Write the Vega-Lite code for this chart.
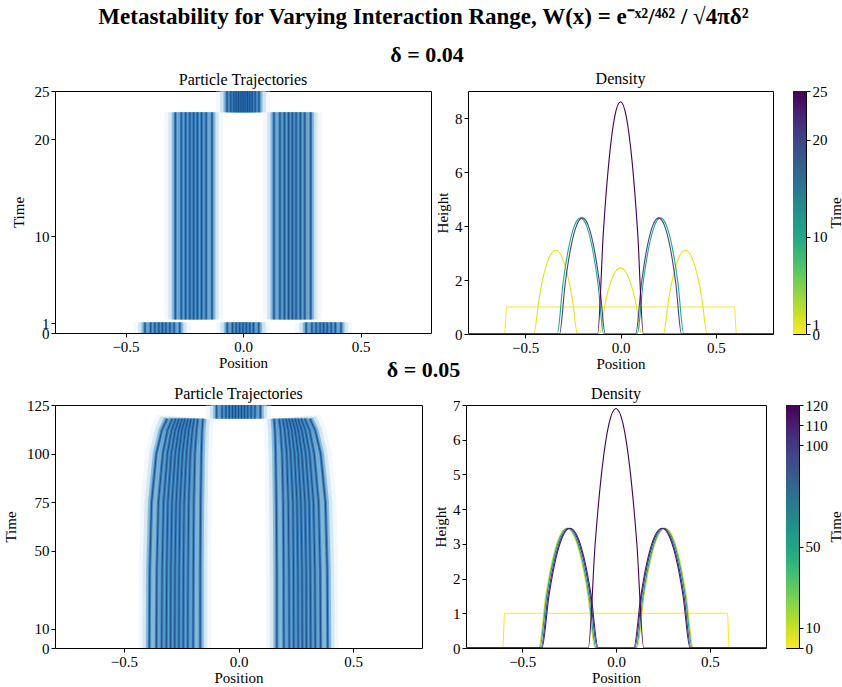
{
"$schema": "https://vega.github.io/schema/vega-lite/v6.json",
"background": "white",
"padding": {"left": 3, "right": 0, "top": 5, "bottom": 0},
"title": {"text": "Metastability for Varying Interaction Range, W(x) = e⁻ˣ²/⁴ᵟ² / √4πδ²", "font": "Liberation Serif", "fontSize": 23, "fontWeight": "bold", "anchor": "middle", "color": "#000", "offset": 15},
"config": {
  "font": "Liberation Serif",
  "view": {"stroke": "#000", "strokeWidth": 1},
  "axis": {"labelFont": "Liberation Serif", "labelFontSize": 15, "labelColor": "#000", "titleFont": "Liberation Serif", "titleFontSize": 15, "titleFontWeight": "normal", "titleColor": "#000", "tickColor": "#000", "domain": false, "grid": false, "tickSize": 4, "labelPadding": 2, "labelOverlap": false},
  "axisX": {"titlePadding": 1},
  "axisY": {"titlePadding": 8},
  "title": {"font": "Liberation Serif", "color": "#000"}
},
"datasets": {
"traj1": [
{"p":"a1","t":0,"x":-0.417},{"p":"a1","t":1.1,"x":-0.417},
{"p":"a2","t":0,"x":-0.393},{"p":"a2","t":1.1,"x":-0.393},
{"p":"a3","t":0,"x":-0.375},{"p":"a3","t":1.1,"x":-0.375},
{"p":"a4","t":0,"x":-0.358},{"p":"a4","t":1.1,"x":-0.358},
{"p":"a5","t":0,"x":-0.343},{"p":"a5","t":1.1,"x":-0.343},
{"p":"a6","t":0,"x":-0.328},{"p":"a6","t":1.1,"x":-0.328},
{"p":"a7","t":0,"x":-0.311},{"p":"a7","t":1.1,"x":-0.311},
{"p":"a8","t":0,"x":-0.293},{"p":"a8","t":1.1,"x":-0.293},
{"p":"a9","t":0,"x":-0.269},{"p":"a9","t":1.1,"x":-0.269},
{"p":"b1","t":0,"x":-0.067},{"p":"b1","t":1.1,"x":-0.067},
{"p":"b2","t":0,"x":-0.045},{"p":"b2","t":1.1,"x":-0.045},
{"p":"b3","t":0,"x":-0.029},{"p":"b3","t":1.1,"x":-0.029},
{"p":"b4","t":0,"x":-0.014},{"p":"b4","t":1.1,"x":-0.014},
{"p":"b5","t":0,"x":0},{"p":"b5","t":1.1,"x":0},
{"p":"b6","t":0,"x":0.014},{"p":"b6","t":1.1,"x":0.014},
{"p":"b7","t":0,"x":0.029},{"p":"b7","t":1.1,"x":0.029},
{"p":"b8","t":0,"x":0.045},{"p":"b8","t":1.1,"x":0.045},
{"p":"b9","t":0,"x":0.067},{"p":"b9","t":1.1,"x":0.067},
{"p":"c1","t":0,"x":0.269},{"p":"c1","t":1.1,"x":0.269},
{"p":"c2","t":0,"x":0.293},{"p":"c2","t":1.1,"x":0.293},
{"p":"c3","t":0,"x":0.311},{"p":"c3","t":1.1,"x":0.311},
{"p":"c4","t":0,"x":0.328},{"p":"c4","t":1.1,"x":0.328},
{"p":"c5","t":0,"x":0.343},{"p":"c5","t":1.1,"x":0.343},
{"p":"c6","t":0,"x":0.358},{"p":"c6","t":1.1,"x":0.358},
{"p":"c7","t":0,"x":0.375},{"p":"c7","t":1.1,"x":0.375},
{"p":"c8","t":0,"x":0.393},{"p":"c8","t":1.1,"x":0.393},
{"p":"c9","t":0,"x":0.417},{"p":"c9","t":1.1,"x":0.417},
{"p":"d1","t":1.4,"x":-0.288},{"p":"d1","t":22.8,"x":-0.288},
{"p":"d2","t":1.4,"x":-0.263},{"p":"d2","t":22.8,"x":-0.263},
{"p":"d3","t":1.4,"x":-0.244},{"p":"d3","t":22.8,"x":-0.244},
{"p":"d4","t":1.4,"x":-0.226},{"p":"d4","t":22.8,"x":-0.226},
{"p":"d5","t":1.4,"x":-0.21},{"p":"d5","t":22.8,"x":-0.21},
{"p":"d6","t":1.4,"x":-0.194},{"p":"d6","t":22.8,"x":-0.194},
{"p":"d7","t":1.4,"x":-0.176},{"p":"d7","t":22.8,"x":-0.176},
{"p":"d8","t":1.4,"x":-0.157},{"p":"d8","t":22.8,"x":-0.157},
{"p":"d9","t":1.4,"x":-0.132},{"p":"d9","t":22.8,"x":-0.132},
{"p":"e1","t":1.4,"x":0.132},{"p":"e1","t":22.8,"x":0.132},
{"p":"e2","t":1.4,"x":0.157},{"p":"e2","t":22.8,"x":0.157},
{"p":"e3","t":1.4,"x":0.176},{"p":"e3","t":22.8,"x":0.176},
{"p":"e4","t":1.4,"x":0.194},{"p":"e4","t":22.8,"x":0.194},
{"p":"e5","t":1.4,"x":0.21},{"p":"e5","t":22.8,"x":0.21},
{"p":"e6","t":1.4,"x":0.226},{"p":"e6","t":22.8,"x":0.226},
{"p":"e7","t":1.4,"x":0.244},{"p":"e7","t":22.8,"x":0.244},
{"p":"e8","t":1.4,"x":0.263},{"p":"e8","t":22.8,"x":0.263},
{"p":"e9","t":1.4,"x":0.288},{"p":"e9","t":22.8,"x":0.288},
{"p":"f1","t":22.8,"x":-0.068},{"p":"f1","t":25,"x":-0.068},
{"p":"f2","t":22.8,"x":-0.052},{"p":"f2","t":25,"x":-0.052},
{"p":"f3","t":22.8,"x":-0.039},{"p":"f3","t":25,"x":-0.039},
{"p":"f4","t":22.8,"x":-0.029},{"p":"f4","t":25,"x":-0.029},
{"p":"f5","t":22.8,"x":-0.019},{"p":"f5","t":25,"x":-0.019},
{"p":"f6","t":22.8,"x":-0.009},{"p":"f6","t":25,"x":-0.009},
{"p":"f7","t":22.8,"x":0},{"p":"f7","t":25,"x":0},
{"p":"f8","t":22.8,"x":0.009},{"p":"f8","t":25,"x":0.009},
{"p":"f9","t":22.8,"x":0.019},{"p":"f9","t":25,"x":0.019},
{"p":"f10","t":22.8,"x":0.029},{"p":"f10","t":25,"x":0.029},
{"p":"f11","t":22.8,"x":0.039},{"p":"f11","t":25,"x":0.039},
{"p":"f12","t":22.8,"x":0.052},{"p":"f12","t":25,"x":0.052},
{"p":"f13","t":22.8,"x":0.068},{"p":"f13","t":25,"x":0.068}
],
"traj2": [
{"p":"l1","t":0,"x":-0.389},{"p":"l1","t":40,"x":-0.387},{"p":"l1","t":75,"x":-0.379},{"p":"l1","t":100,"x":-0.358},{"p":"l1","t":112,"x":-0.334},{"p":"l1","t":118,"x":-0.311},
{"p":"l2","t":0,"x":-0.358},{"p":"l2","t":40,"x":-0.356},{"p":"l2","t":75,"x":-0.349},{"p":"l2","t":100,"x":-0.330},{"p":"l2","t":112,"x":-0.310},{"p":"l2","t":118,"x":-0.289},
{"p":"l3","t":0,"x":-0.335},{"p":"l3","t":40,"x":-0.333},{"p":"l3","t":75,"x":-0.327},{"p":"l3","t":100,"x":-0.310},{"p":"l3","t":112,"x":-0.292},{"p":"l3","t":118,"x":-0.273},
{"p":"l4","t":0,"x":-0.315},{"p":"l4","t":40,"x":-0.313},{"p":"l4","t":75,"x":-0.308},{"p":"l4","t":100,"x":-0.293},{"p":"l4","t":112,"x":-0.276},{"p":"l4","t":118,"x":-0.259},
{"p":"l5","t":0,"x":-0.296},{"p":"l5","t":40,"x":-0.295},{"p":"l5","t":75,"x":-0.290},{"p":"l5","t":100,"x":-0.276},{"p":"l5","t":112,"x":-0.261},{"p":"l5","t":118,"x":-0.246},
{"p":"l6","t":0,"x":-0.278},{"p":"l6","t":40,"x":-0.277},{"p":"l6","t":75,"x":-0.272},{"p":"l6","t":100,"x":-0.26},{"p":"l6","t":112,"x":-0.247},{"p":"l6","t":118,"x":-0.233},
{"p":"l7","t":0,"x":-0.26},{"p":"l7","t":40,"x":-0.259},{"p":"l7","t":75,"x":-0.255},{"p":"l7","t":100,"x":-0.244},{"p":"l7","t":112,"x":-0.232},{"p":"l7","t":118,"x":-0.22},
{"p":"l8","t":0,"x":-0.241},{"p":"l8","t":40,"x":-0.24},{"p":"l8","t":75,"x":-0.237},{"p":"l8","t":100,"x":-0.227},{"p":"l8","t":112,"x":-0.217},{"p":"l8","t":118,"x":-0.207},
{"p":"l9","t":0,"x":-0.221},{"p":"l9","t":40,"x":-0.22},{"p":"l9","t":75,"x":-0.217},{"p":"l9","t":100,"x":-0.21},{"p":"l9","t":112,"x":-0.201},{"p":"l9","t":118,"x":-0.193},
{"p":"l10","t":0,"x":-0.198},{"p":"l10","t":40,"x":-0.197},{"p":"l10","t":75,"x":-0.195},{"p":"l10","t":100,"x":-0.19},{"p":"l10","t":112,"x":-0.183},{"p":"l10","t":118,"x":-0.177},
{"p":"l11","t":0,"x":-0.167},{"p":"l11","t":40,"x":-0.167},{"p":"l11","t":75,"x":-0.165},{"p":"l11","t":100,"x":-0.162},{"p":"l11","t":112,"x":-0.159},{"p":"l11","t":118,"x":-0.155},
{"p":"r1","t":0,"x":0.389},{"p":"r1","t":40,"x":0.387},{"p":"r1","t":75,"x":0.379},{"p":"r1","t":100,"x":0.358},{"p":"r1","t":112,"x":0.334},{"p":"r1","t":118,"x":0.311},
{"p":"r2","t":0,"x":0.358},{"p":"r2","t":40,"x":0.356},{"p":"r2","t":75,"x":0.349},{"p":"r2","t":100,"x":0.330},{"p":"r2","t":112,"x":0.310},{"p":"r2","t":118,"x":0.289},
{"p":"r3","t":0,"x":0.335},{"p":"r3","t":40,"x":0.333},{"p":"r3","t":75,"x":0.327},{"p":"r3","t":100,"x":0.310},{"p":"r3","t":112,"x":0.292},{"p":"r3","t":118,"x":0.273},
{"p":"r4","t":0,"x":0.315},{"p":"r4","t":40,"x":0.313},{"p":"r4","t":75,"x":0.308},{"p":"r4","t":100,"x":0.293},{"p":"r4","t":112,"x":0.276},{"p":"r4","t":118,"x":0.259},
{"p":"r5","t":0,"x":0.296},{"p":"r5","t":40,"x":0.295},{"p":"r5","t":75,"x":0.290},{"p":"r5","t":100,"x":0.276},{"p":"r5","t":112,"x":0.261},{"p":"r5","t":118,"x":0.246},
{"p":"r6","t":0,"x":0.278},{"p":"r6","t":40,"x":0.277},{"p":"r6","t":75,"x":0.272},{"p":"r6","t":100,"x":0.26},{"p":"r6","t":112,"x":0.247},{"p":"r6","t":118,"x":0.233},
{"p":"r7","t":0,"x":0.26},{"p":"r7","t":40,"x":0.259},{"p":"r7","t":75,"x":0.255},{"p":"r7","t":100,"x":0.244},{"p":"r7","t":112,"x":0.232},{"p":"r7","t":118,"x":0.22},
{"p":"r8","t":0,"x":0.241},{"p":"r8","t":40,"x":0.24},{"p":"r8","t":75,"x":0.237},{"p":"r8","t":100,"x":0.227},{"p":"r8","t":112,"x":0.217},{"p":"r8","t":118,"x":0.207},
{"p":"r9","t":0,"x":0.221},{"p":"r9","t":40,"x":0.22},{"p":"r9","t":75,"x":0.217},{"p":"r9","t":100,"x":0.21},{"p":"r9","t":112,"x":0.201},{"p":"r9","t":118,"x":0.193},
{"p":"r10","t":0,"x":0.198},{"p":"r10","t":40,"x":0.197},{"p":"r10","t":75,"x":0.195},{"p":"r10","t":100,"x":0.19},{"p":"r10","t":112,"x":0.183},{"p":"r10","t":118,"x":0.177},
{"p":"r11","t":0,"x":0.167},{"p":"r11","t":40,"x":0.167},{"p":"r11","t":75,"x":0.165},{"p":"r11","t":100,"x":0.162},{"p":"r11","t":112,"x":0.159},{"p":"r11","t":118,"x":0.155},
{"p":"m1","t":118,"x":-0.095},{"p":"m1","t":125,"x":-0.095},
{"p":"m2","t":118,"x":-0.072},{"p":"m2","t":125,"x":-0.072},
{"p":"m3","t":118,"x":-0.055},{"p":"m3","t":125,"x":-0.055},
{"p":"m4","t":118,"x":-0.04},{"p":"m4","t":125,"x":-0.04},
{"p":"m5","t":118,"x":-0.026},{"p":"m5","t":125,"x":-0.026},
{"p":"m6","t":118,"x":-0.013},{"p":"m6","t":125,"x":-0.013},
{"p":"m7","t":118,"x":0},{"p":"m7","t":125,"x":0},
{"p":"m8","t":118,"x":0.013},{"p":"m8","t":125,"x":0.013},
{"p":"m9","t":118,"x":0.026},{"p":"m9","t":125,"x":0.026},
{"p":"m10","t":118,"x":0.04},{"p":"m10","t":125,"x":0.04},
{"p":"m11","t":118,"x":0.055},{"p":"m11","t":125,"x":0.055},
{"p":"m12","t":118,"x":0.072},{"p":"m12","t":125,"x":0.072},
{"p":"m13","t":118,"x":0.095},{"p":"m13","t":125,"x":0.095}
],
"dens1": [
{"t":0,"x":-0.8,"h":0},{"t":0,"x":-0.608,"h":0},{"t":0,"x":-0.598,"h":1},{"t":0,"x":0.598,"h":1},{"t":0,"x":0.608,"h":0},{"t":0,"x":0.8,"h":0},
{"t":1,"x":-0.8,"h":0},
{"t":1,"x":-0.455,"h":0},{"t":1,"x":-0.426,"h":1.356},{"t":1,"x":-0.398,"h":2.325},{"t":1,"x":-0.369,"h":2.906},{"t":1,"x":-0.34,"h":3.1},{"t":1,"x":-0.311,"h":2.906},{"t":1,"x":-0.283,"h":2.325},{"t":1,"x":-0.254,"h":1.356},{"t":1,"x":-0.225,"h":0},
{"t":1,"x":-0.11,"h":0},{"t":1,"x":-0.0825,"h":1.072},{"t":1,"x":-0.055,"h":1.838},{"t":1,"x":-0.0275,"h":2.297},{"t":1,"x":0,"h":2.45},{"t":1,"x":0.0275,"h":2.297},{"t":1,"x":0.055,"h":1.838},{"t":1,"x":0.0825,"h":1.072},{"t":1,"x":0.11,"h":0},
{"t":1,"x":0.225,"h":0},{"t":1,"x":0.254,"h":1.356},{"t":1,"x":0.283,"h":2.325},{"t":1,"x":0.311,"h":2.906},{"t":1,"x":0.34,"h":3.1},{"t":1,"x":0.369,"h":2.906},{"t":1,"x":0.398,"h":2.325},{"t":1,"x":0.426,"h":1.356},{"t":1,"x":0.455,"h":0},
{"t":1,"x":0.8,"h":0},
{"t":10,"x":-0.8,"h":0},
{"t":10,"x":-0.332,"h":0},{"t":10,"x":-0.3015,"h":1.881},{"t":10,"x":-0.271,"h":3.225},{"t":10,"x":-0.2405,"h":4.031},{"t":10,"x":-0.21,"h":4.3},{"t":10,"x":-0.1795,"h":4.031},{"t":10,"x":-0.149,"h":3.225},{"t":10,"x":-0.1185,"h":1.881},{"t":10,"x":-0.088,"h":0},
{"t":10,"x":0.088,"h":0},{"t":10,"x":0.1185,"h":1.881},{"t":10,"x":0.149,"h":3.225},{"t":10,"x":0.1795,"h":4.031},{"t":10,"x":0.21,"h":4.3},{"t":10,"x":0.2405,"h":4.031},{"t":10,"x":0.271,"h":3.225},{"t":10,"x":0.3015,"h":1.881},{"t":10,"x":0.332,"h":0},
{"t":10,"x":0.8,"h":0},
{"t":20,"x":-0.8,"h":0},
{"t":20,"x":-0.32,"h":0},{"t":20,"x":-0.29,"h":1.881},{"t":20,"x":-0.26,"h":3.225},{"t":20,"x":-0.23,"h":4.031},{"t":20,"x":-0.2,"h":4.3},{"t":20,"x":-0.17,"h":4.031},{"t":20,"x":-0.14,"h":3.225},{"t":20,"x":-0.11,"h":1.881},{"t":20,"x":-0.08,"h":0},
{"t":20,"x":0.08,"h":0},{"t":20,"x":0.11,"h":1.881},{"t":20,"x":0.14,"h":3.225},{"t":20,"x":0.17,"h":4.031},{"t":20,"x":0.2,"h":4.3},{"t":20,"x":0.23,"h":4.031},{"t":20,"x":0.26,"h":3.225},{"t":20,"x":0.29,"h":1.881},{"t":20,"x":0.32,"h":0},
{"t":20,"x":0.8,"h":0},
{"t":25,"x":-0.8,"h":0},
{"t":25,"x":-0.12,"h":0},{"t":25,"x":-0.09,"h":3.763},{"t":25,"x":-0.06,"h":6.45},{"t":25,"x":-0.03,"h":8.063},{"t":25,"x":0,"h":8.6},{"t":25,"x":0.03,"h":8.063},{"t":25,"x":0.06,"h":6.45},{"t":25,"x":0.09,"h":3.763},{"t":25,"x":0.12,"h":0},
{"t":25,"x":0.8,"h":0}
],
"dens2": [
{"t":0,"x":-0.8,"h":0},{"t":0,"x":-0.603,"h":0},{"t":0,"x":-0.595,"h":1},{"t":0,"x":0.595,"h":1},{"t":0,"x":0.603,"h":0},{"t":0,"x":0.8,"h":0},
{"t":10,"x":-0.8,"h":0},
{"t":10,"x":-0.412,"h":0},{"t":10,"x":-0.3745,"h":1.509},{"t":10,"x":-0.337,"h":2.588},{"t":10,"x":-0.2995,"h":3.234},{"t":10,"x":-0.262,"h":3.45},{"t":10,"x":-0.2245,"h":3.234},{"t":10,"x":-0.187,"h":2.588},{"t":10,"x":-0.1495,"h":1.509},{"t":10,"x":-0.112,"h":0},
{"t":10,"x":0.112,"h":0},{"t":10,"x":0.1495,"h":1.509},{"t":10,"x":0.187,"h":2.588},{"t":10,"x":0.2245,"h":3.234},{"t":10,"x":0.262,"h":3.45},{"t":10,"x":0.2995,"h":3.234},{"t":10,"x":0.337,"h":2.588},{"t":10,"x":0.3745,"h":1.509},{"t":10,"x":0.412,"h":0},
{"t":10,"x":0.8,"h":0},
{"t":50,"x":-0.8,"h":0},
{"t":50,"x":-0.407,"h":0},{"t":50,"x":-0.3695,"h":1.509},{"t":50,"x":-0.332,"h":2.588},{"t":50,"x":-0.2945,"h":3.234},{"t":50,"x":-0.257,"h":3.45},{"t":50,"x":-0.2195,"h":3.234},{"t":50,"x":-0.182,"h":2.588},{"t":50,"x":-0.1445,"h":1.509},{"t":50,"x":-0.107,"h":0},
{"t":50,"x":0.107,"h":0},{"t":50,"x":0.1445,"h":1.509},{"t":50,"x":0.182,"h":2.588},{"t":50,"x":0.2195,"h":3.234},{"t":50,"x":0.257,"h":3.45},{"t":50,"x":0.2945,"h":3.234},{"t":50,"x":0.332,"h":2.588},{"t":50,"x":0.3695,"h":1.509},{"t":50,"x":0.407,"h":0},
{"t":50,"x":0.8,"h":0},
{"t":100,"x":-0.8,"h":0},
{"t":100,"x":-0.4,"h":0},{"t":100,"x":-0.3625,"h":1.509},{"t":100,"x":-0.325,"h":2.588},{"t":100,"x":-0.2875,"h":3.234},{"t":100,"x":-0.25,"h":3.45},{"t":100,"x":-0.2125,"h":3.234},{"t":100,"x":-0.175,"h":2.588},{"t":100,"x":-0.1375,"h":1.509},{"t":100,"x":-0.1,"h":0},
{"t":100,"x":0.1,"h":0},{"t":100,"x":0.1375,"h":1.509},{"t":100,"x":0.175,"h":2.588},{"t":100,"x":0.2125,"h":3.234},{"t":100,"x":0.25,"h":3.45},{"t":100,"x":0.2875,"h":3.234},{"t":100,"x":0.325,"h":2.588},{"t":100,"x":0.3625,"h":1.509},{"t":100,"x":0.4,"h":0},
{"t":100,"x":0.8,"h":0},
{"t":110,"x":-0.8,"h":0},
{"t":110,"x":-0.395,"h":0},{"t":110,"x":-0.3575,"h":1.509},{"t":110,"x":-0.32,"h":2.588},{"t":110,"x":-0.2825,"h":3.234},{"t":110,"x":-0.245,"h":3.45},{"t":110,"x":-0.2075,"h":3.234},{"t":110,"x":-0.17,"h":2.588},{"t":110,"x":-0.1325,"h":1.509},{"t":110,"x":-0.095,"h":0},
{"t":110,"x":0.095,"h":0},{"t":110,"x":0.1325,"h":1.509},{"t":110,"x":0.17,"h":2.588},{"t":110,"x":0.2075,"h":3.234},{"t":110,"x":0.245,"h":3.45},{"t":110,"x":0.2825,"h":3.234},{"t":110,"x":0.32,"h":2.588},{"t":110,"x":0.3575,"h":1.509},{"t":110,"x":0.395,"h":0},
{"t":110,"x":0.8,"h":0},
{"t":120,"x":-0.8,"h":0},
{"t":120,"x":-0.148,"h":0},{"t":120,"x":-0.111,"h":3.019},{"t":120,"x":-0.074,"h":5.175},{"t":120,"x":-0.037,"h":6.469},{"t":120,"x":0,"h":6.9},{"t":120,"x":0.037,"h":6.469},{"t":120,"x":0.074,"h":5.175},{"t":120,"x":0.111,"h":3.019},{"t":120,"x":0.148,"h":0},
{"t":120,"x":0.8,"h":0}
]
},
"resolve": {"scale": {"color": "independent"}},
"columns": 1,
"spacing": -14,
"concat": [
{
 "title": {"text": "δ = 0.04", "fontSize": 22, "fontWeight": "bold", "anchor": "middle", "offset": 4},
 "spacing": 3,
 "resolve": {"scale": {"color": "independent"}},
 "hconcat": [
  {
   "width": 376, "height": 242,
   "title": {"text": "Particle Trajectories", "fontSize": 16, "fontWeight": "normal", "offset": -4},
   "data": {"name": "traj1"},
   "encoding": {
     "x": {"field": "x", "type": "quantitative", "scale": {"domain": [-0.8, 0.8], "nice": false, "zero": false}, "axis": {"values": [-0.5, 0, 0.5], "format": ".1f", "title": "Position"}},
     "y": {"field": "t", "type": "quantitative", "scale": {"domain": [0, 25], "nice": false}, "axis": {"values": [0, 1, 10, 20, 25], "title": "Time"}},
     "detail": {"field": "p"},
     "order": {"field": "t", "type": "quantitative"}
   },
   "layer": [
     {"mark": {"type": "line", "color": "#deebf7", "strokeWidth": 22, "opacity": 0.35, "strokeCap": "butt", "clip": true}},
     {"mark": {"type": "line", "color": "#9ecae1", "strokeWidth": 14, "opacity": 0.35, "strokeCap": "butt", "clip": true}},
     {"mark": {"type": "line", "color": "#4292c6", "strokeWidth": 7, "opacity": 0.5, "strokeCap": "butt", "clip": true}},
     {"mark": {"type": "line", "color": "#1c5fa8", "strokeWidth": 3, "opacity": 0.6, "strokeCap": "butt", "clip": true}},
     {"mark": {"type": "line", "color": "#08306b", "strokeWidth": 1, "opacity": 0.6, "strokeCap": "butt", "clip": true}}
   ]
  },
  {
   "spacing": 18,
   "hconcat": [
    {
     "width": 305, "height": 243,
     "title": {"text": "Density", "fontSize": 16, "fontWeight": "normal", "offset": 4},
     "data": {"name": "dens1"},
     "mark": {"type": "line", "strokeWidth": 1.1, "interpolate": "monotone", "clip": true},
     "encoding": {
       "x": {"field": "x", "type": "quantitative", "scale": {"domain": [-0.8, 0.8], "nice": false, "zero": false}, "axis": {"values": [-0.5, 0, 0.5], "format": ".1f", "title": "Position"}},
       "y": {"field": "h", "type": "quantitative", "scale": {"domain": [0, 9], "nice": false}, "axis": {"values": [0, 2, 4, 6, 8], "title": "Height", "titlePadding": 4}},
       "color": {"field": "t", "type": "quantitative", "scale": {"scheme": "viridis", "reverse": true, "domain": [0, 25]}, "legend": null},
       "detail": {"field": "t"}
     }
    },
    {
     "width": 13, "height": 243,
     "data": {"values": [{"lo": 0, "hi": 25}]},
     "mark": {"type": "rect", "color": {"gradient": "linear", "x1": 0, "y1": 1, "x2": 0, "y2": 0, "stops": [{"offset": 0, "color": "#fde725"}, {"offset": 0.1, "color": "#bddf26"}, {"offset": 0.2, "color": "#7ad151"}, {"offset": 0.3, "color": "#44bf70"}, {"offset": 0.4, "color": "#22a884"}, {"offset": 0.5, "color": "#21918c"}, {"offset": 0.6, "color": "#2a788e"}, {"offset": 0.7, "color": "#355f8d"}, {"offset": 0.8, "color": "#414487"}, {"offset": 0.9, "color": "#482475"}, {"offset": 1, "color": "#440154"}]}},
     "encoding": {
       "y": {"field": "lo", "type": "quantitative", "scale": {"domain": [0, 25], "nice": false}, "axis": {"orient": "right", "values": [0, 1, 10, 20, 25], "title": "Time", "titleAngle": 270, "titleBaseline": "top", "titlePadding": 1}},
       "y2": {"field": "hi"}
     }
    }
   ]
  }
 ]
},
{
 "title": {"text": "δ = 0.05", "fontSize": 22, "fontWeight": "bold", "anchor": "middle", "offset": 4},
 "spacing": 10,
 "resolve": {"scale": {"color": "independent"}},
 "hconcat": [
  {
   "width": 367, "height": 243,
   "title": {"text": "Particle Trajectories", "fontSize": 16, "fontWeight": "normal", "offset": -4},
   "data": {"name": "traj2"},
   "encoding": {
     "x": {"field": "x", "type": "quantitative", "scale": {"domain": [-0.8, 0.8], "nice": false, "zero": false}, "axis": {"values": [-0.5, 0, 0.5], "format": ".1f", "title": "Position"}},
     "y": {"field": "t", "type": "quantitative", "scale": {"domain": [0, 125], "nice": false}, "axis": {"values": [0, 10, 50, 75, 100, 125], "title": "Time"}},
     "detail": {"field": "p"},
     "order": {"field": "t", "type": "quantitative"}
   },
   "layer": [
     {"mark": {"type": "line", "color": "#deebf7", "strokeWidth": 22, "opacity": 0.35, "strokeCap": "butt", "clip": true}},
     {"mark": {"type": "line", "color": "#9ecae1", "strokeWidth": 14, "opacity": 0.35, "strokeCap": "butt", "clip": true}},
     {"mark": {"type": "line", "color": "#4292c6", "strokeWidth": 7, "opacity": 0.5, "strokeCap": "butt", "clip": true}},
     {"mark": {"type": "line", "color": "#1c5fa8", "strokeWidth": 3, "opacity": 0.6, "strokeCap": "butt", "clip": true}},
     {"mark": {"type": "line", "color": "#08306b", "strokeWidth": 1, "opacity": 0.6, "strokeCap": "butt", "clip": true}}
   ]
  },
  {
   "spacing": 18,
   "hconcat": [
    {
     "width": 300, "height": 243,
     "title": {"text": "Density", "fontSize": 16, "fontWeight": "normal", "offset": -4},
     "data": {"name": "dens2"},
     "mark": {"type": "line", "strokeWidth": 1.1, "interpolate": "monotone", "clip": true},
     "encoding": {
       "x": {"field": "x", "type": "quantitative", "scale": {"domain": [-0.8, 0.8], "nice": false, "zero": false}, "axis": {"values": [-0.5, 0, 0.5], "format": ".1f", "title": "Position"}},
       "y": {"field": "h", "type": "quantitative", "scale": {"domain": [0, 7], "nice": false}, "axis": {"values": [0, 1, 2, 3, 4, 5, 6, 7], "title": "Height", "titlePadding": 4}},
       "color": {"field": "t", "type": "quantitative", "scale": {"scheme": "viridis", "reverse": true, "domain": [0, 120]}, "legend": null},
       "detail": {"field": "t"}
     }
    },
    {
     "width": 13, "height": 243,
     "data": {"values": [{"lo": 0, "hi": 120}]},
     "mark": {"type": "rect", "color": {"gradient": "linear", "x1": 0, "y1": 1, "x2": 0, "y2": 0, "stops": [{"offset": 0, "color": "#fde725"}, {"offset": 0.1, "color": "#bddf26"}, {"offset": 0.2, "color": "#7ad151"}, {"offset": 0.3, "color": "#44bf70"}, {"offset": 0.4, "color": "#22a884"}, {"offset": 0.5, "color": "#21918c"}, {"offset": 0.6, "color": "#2a788e"}, {"offset": 0.7, "color": "#355f8d"}, {"offset": 0.8, "color": "#414487"}, {"offset": 0.9, "color": "#482475"}, {"offset": 1, "color": "#440154"}]}},
     "encoding": {
       "y": {"field": "lo", "type": "quantitative", "scale": {"domain": [0, 120], "nice": false}, "axis": {"orient": "right", "values": [0, 10, 50, 100, 110, 120], "title": "Time", "titleAngle": 270, "titleBaseline": "top", "titlePadding": 1}},
       "y2": {"field": "hi"}
     }
    }
   ]
  }
 ]
}
]
}
